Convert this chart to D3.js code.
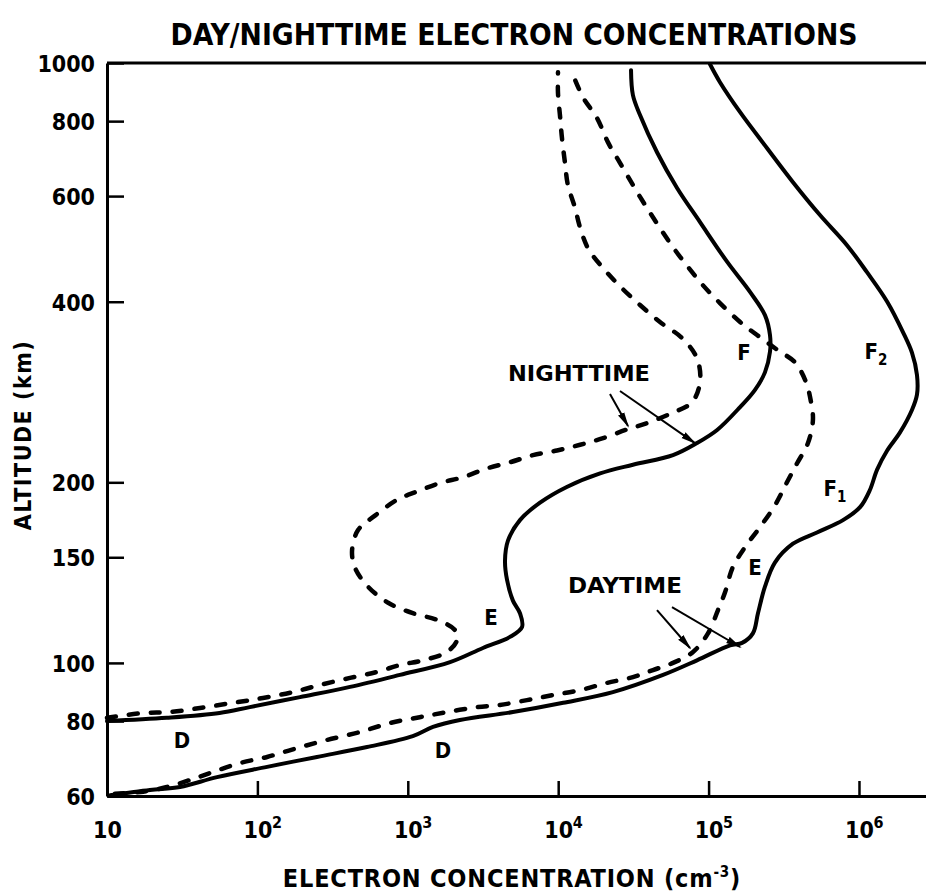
<!DOCTYPE html>
<html>
<head>
<meta charset="utf-8">
<script src="https://cdn.jsdelivr.net/npm/d3@7/dist/d3.min.js"></script>
<style>
  body { margin: 0; background: #fff; }
  svg text { font-family: "Liberation Sans Narrow", "DejaVu Sans Condensed", "Liberation Sans", sans-serif; font-weight: bold; fill: #000; }
</style>
</head>
<body>
<svg width="926" height="893"></svg>
<script>
// profiles: [electron concentration (cm^-3), altitude (km)]
var nightSolid = [[10,80],[25,81],[56,82.5],[89,84.4],[192,87.7],[413,91.2],[887,95.5],[1910,100.3],[3160,105.9],[4780,110.5],[5750,114.8],[5570,121],[5000,127],[4570,137.5],[4430,148],[4640,160],[5570,173],[7570,185],[11400,196.5],[19000,207],[31400,214],[58000,222],[83700,232.5],[114000,244.5],[162000,267],[203000,285],[237000,305],[256000,330],[256000,352],[237000,380],[189000,415],[133000,466],[87700,543],[61700,619],[45400,710],[35000,819],[31400,884],[30500,973]];

var nightDashed = [[10,81],[17.4,82.5],[26,82.8],[41.5,84.1],[69,85.8],[109,87.4],[172,89.4],[261,91.9],[413,94.4],[624,96.6],[887,99.2],[1260,101],[1820,104.3],[2120,109],[2060,113.4],[1560,118],[1080,121],[740,126],[544,134],[446,144],[426,154],[467,166.5],[605,176],[848,187],[1150,193],[1640,199.5],[2330,204],[3360,211],[4780,216],[6800,222],[9820,226],[14000,231],[19900,237],[28700,245],[39000,251],[57100,261],[77600,272],[87700,294],[83700,322],[66600,348],[47500,370],[35000,395],[26600,421],[19900,455],[15800,491],[14000,531],[12900,575],[11600,626],[11100,681],[10600,749],[10300,813],[9970,891],[9970,965]];

var daySolid = [[10.5,60.2],[19.3,61.4],[30.6,62.1],[53.9,64.5],[116,67.1],[249,69.7],[536,72.4],[1080,75.5],[1470,78.2],[2220,80.3],[5000,82.8],[10800,85.8],[23100,89.4],[49800,95.5],[83700,101],[139000,107],[167000,108],[197000,112],[213000,121],[237000,134],[276000,147],[364000,158],[526000,165],[783000,173],[1.02e6,182],[1.18e6,194],[1.32e6,210],[1.54e6,226],[1.87e6,242],[2.25e6,264],[2.43e6,280],[2.43e6,302],[2.25e6,329],[1.96e6,356],[1.54e6,400],[1.13e6,448],[832000,497],[550000,558],[364000,633],[245000,721],[162000,828],[119000,929],[102000,996]];

var dayDashed = [[11.3,60.5],[17.4,61],[25,62.1],[35.6,63.8],[50.7,65.8],[76.6,68.1],[116,69.7],[183,72.1],[290,74.4],[481,76.7],[762,79.4],[1200,81.2],[1820,82.8],[2890,84.4],[4100,85.1],[6200,86.7],[9240,88.4],[14000,90.1],[21100,92.6],[31400,94.7],[42700,97.3],[58000,100],[78800,104.3],[99100,112],[115500,122.5],[128500,131],[145000,144.5],[175000,156],[220000,168.5],[276000,183],[332000,200],[387000,215],[458000,232.5],[494000,254],[480000,272],[444000,294],[375000,317],[289000,332],[210000,352],[162000,370],[119000,398],[91800,426],[73000,457],[58000,493],[46100,537],[37800,580],[31400,626],[25800,681],[21400,738],[18100,810],[14600,877],[12350,965]];

var altTicks = [60, 80, 100, 150, 200, 400, 600, 800, 1000];
var concTicks = [10, 1e2, 1e3, 1e4, 1e5, 1e6];
var concExp = ["", "2", "3", "4", "5", "6"];

// region labels: [text, subscript, conc, alt]
var regionLabels = [
  ["D", "", 31.5, 74.4],
  ["D", "", 1714, 71.6],
  ["E", "", 3574, 119.2],
  ["E", "", 203500, 144.5],
  ["F", "1", 692400, 195.6],
  ["F", "", 171900, 330],
  ["F", "2", 1297000, 331]
];
// arrows: [from conc, from alt, to conc, to alt]
var nightArrows = [[22100, 280.6, 29120, 248.2], [25760, 284, 81220, 232.5]];
var dayArrows = [[45400, 122.5, 75220, 105.9], [57100, 123.9, 161800, 106.3]];

var svg = d3.select("svg");

var x = d3.scaleLog().domain([10, 2.79e6]).range([107, 926]),
    y = d3.scaleLog().domain([60, 1000]).range([796, 63]);

var line = d3.line()
    .x(function(d) { return x(d[0]); })
    .y(function(d) { return y(d[1]); })
    .curve(d3.curveCatmullRom.alpha(0.5));

svg.append("defs").append("marker")
    .attr("id", "head")
    .attr("viewBox", "0 -4 16 8")
    .attr("refX", 14).attr("refY", 0)
    .attr("markerUnits", "userSpaceOnUse")
    .attr("markerWidth", 16).attr("markerHeight", 8)
    .attr("orient", "auto")
  .append("path")
    .attr("d", "M0,-3.5L16,0L0,3.5Z")
    .attr("fill", "#000");

// frame top
svg.append("line")
    .attr("x1", x(10)).attr("x2", x(2.79e6))
    .attr("y1", y(1000)).attr("y2", y(1000))
    .attr("stroke", "#000").attr("stroke-width", 3);

var yAxis = svg.append("g")
    .attr("transform", "translate(" + x(10) + ",0)")
    .call(d3.axisLeft(y).tickValues(altTicks).tickFormat(d3.format("d"))
      .tickSizeInner(-17).tickSizeOuter(0).tickPadding(12));
yAxis.select(".domain").attr("stroke-width", 3);
yAxis.selectAll(".tick line").attr("stroke-width", 2.5);
yAxis.selectAll(".tick text").attr("font-size", 23).attr("dy", "0.36em");

var xAxis = svg.append("g")
    .attr("transform", "translate(0," + y(60) + ")")
    .call(d3.axisBottom(x).tickValues(concTicks).tickFormat("")
      .tickSizeInner(-15).tickSizeOuter(0));
xAxis.select(".domain").attr("stroke-width", 3);
xAxis.selectAll(".tick line").attr("stroke-width", 2.5);
xAxis.selectAll(".tick").each(function(d, i) {
  var t = d3.select(this);
  t.append("text").attr("y", 42).attr("text-anchor", "middle")
    .attr("font-size", 23).text("10");
  if (concExp[i]) {
    t.append("text").attr("x", 19).attr("y", 32)
      .attr("font-size", 16).text(concExp[i]);
  }
});

// curves
function drawCurve(data, dashed) {
  svg.append("path")
      .datum(data)
      .attr("fill", "none")
      .attr("stroke", "#000")
      .attr("stroke-width", dashed ? 4.5 : 4)
      .attr("stroke-linecap", "round")
      .attr("stroke-dasharray", dashed ? "9,13" : null)
      .attr("d", line);
}
drawCurve(nightSolid, false);
drawCurve(nightDashed, true);
drawCurve(daySolid, false);
drawCurve(dayDashed, true);

// arrows
svg.selectAll(".arrow")
    .data(nightArrows.concat(dayArrows))
  .enter().append("line")
    .attr("class", "arrow")
    .attr("x1", function(d) { return x(d[0]); })
    .attr("y1", function(d) { return y(d[1]); })
    .attr("x2", function(d) { return x(d[2]); })
    .attr("y2", function(d) { return y(d[3]); })
    .attr("stroke", "#000").attr("stroke-width", 2)
    .attr("marker-end", "url(#head)");

// labels
var lab = svg.selectAll(".region")
    .data(regionLabels)
  .enter().append("text")
    .attr("class", "region")
    .attr("x", function(d) { return x(d[2]); })
    .attr("y", function(d) { return y(d[3]); })
    .attr("dy", "0.36em")
    .attr("text-anchor", "middle")
    .attr("font-size", 22)
    .text(function(d) { return d[0]; });
lab.filter(function(d) { return d[1]; })
  .append("tspan")
    .attr("dy", 6).attr("font-size", 15)
    .text(function(d) { return d[1]; });

svg.append("text")
    .attr("x", x(13750)).attr("y", y(304)).attr("dy", "0.36em")
    .attr("text-anchor", "middle").attr("font-size", 22)
    .attr("textLength", 142).attr("lengthAdjust", "spacingAndGlyphs")
    .text("NIGHTTIME");
svg.append("text")
    .attr("x", x(27810)).attr("y", y(134.8)).attr("dy", "0.36em")
    .attr("text-anchor", "middle").attr("font-size", 22)
    .attr("textLength", 114).attr("lengthAdjust", "spacingAndGlyphs")
    .text("DAYTIME");

// titles
svg.append("text")
    .attr("x", 514).attr("y", 45)
    .attr("text-anchor", "middle").attr("font-size", 30)
    .attr("textLength", 687).attr("lengthAdjust", "spacingAndGlyphs")
    .text("DAY/NIGHTTIME ELECTRON CONCENTRATIONS");

var xl = svg.append("text")
    .attr("x", 512).attr("y", 887)
    .attr("text-anchor", "middle").attr("font-size", 25)
    .attr("letter-spacing", 0.8);
xl.append("tspan").text("ELECTRON CONCENTRATION  (cm");
xl.append("tspan").attr("dy", -10).attr("font-size", 15).text("-3");
xl.append("tspan").attr("dy", 10).text(")");

svg.append("text")
    .attr("transform", "translate(31,435) rotate(-90)")
    .attr("text-anchor", "middle").attr("font-size", 23)
    .attr("letter-spacing", 1.5)
    .text("ALTITUDE (km)");
</script>
</body>
</html>
